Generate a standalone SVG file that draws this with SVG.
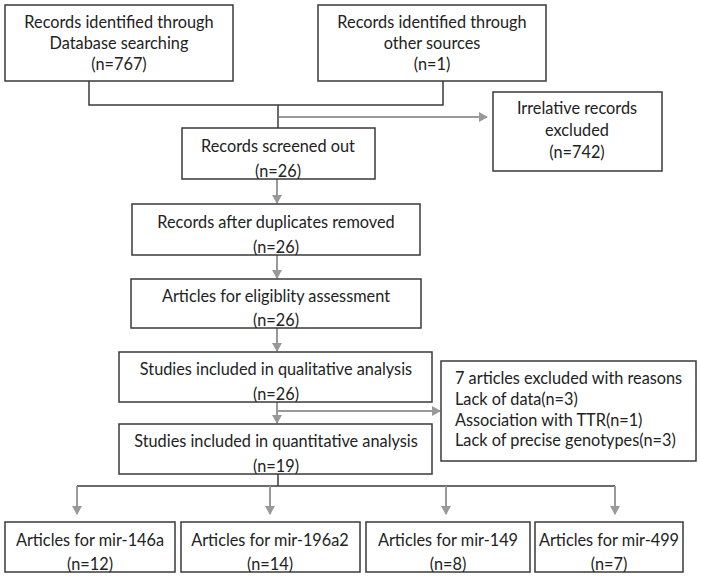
<svg xmlns="http://www.w3.org/2000/svg" width="701" height="579" viewBox="0 0 701 579">
<style>
  .box{fill:#fff;stroke:#3a3a3a;stroke-width:1.5}
  .t{font-family:Lato,"Liberation Sans",sans-serif;font-size:16.3px;fill:#222;text-anchor:middle}
  .tl{font-family:Lato,"Liberation Sans",sans-serif;font-size:16.3px;fill:#222;text-anchor:start}
  .k{fill:none;stroke:#3a3a3a;stroke-width:1.5}
  .g{fill:none;stroke:#999;stroke-width:2}
</style>
<defs>
  <marker id="ah" markerWidth="10" markerHeight="10" refX="8" refY="5" orient="auto" markerUnits="userSpaceOnUse">
    <path d="M0,0 L9,5 L0,10 Z" fill="#999"/>
  </marker>
  <clipPath id="c3"><rect x="182" y="128" width="193" height="51"/></clipPath>
  <clipPath id="c4"><rect x="132" y="204" width="288" height="51"/></clipPath>
  <clipPath id="c5"><rect x="131" y="279" width="290" height="49"/></clipPath>
  <clipPath id="c6"><rect x="119" y="352" width="313" height="50"/></clipPath>
  <clipPath id="c7"><rect x="119" y="424" width="313" height="50"/></clipPath>
  <clipPath id="cb"><rect x="0" y="522" width="701" height="50"/></clipPath>
</defs>
<rect width="701" height="579" fill="#fff"/>

<g id="connectors">
  <polyline class="k" points="89,81 89,105 443,105 443,81"/>
  <line class="k" x1="278" y1="105" x2="278" y2="128"/>
  <line class="g" x1="279" y1="117" x2="487" y2="117" marker-end="url(#ah)"/>
  <line class="g" x1="277" y1="179" x2="277" y2="203" marker-end="url(#ah)"/>
  <line class="g" x1="277" y1="255" x2="277" y2="278" marker-end="url(#ah)"/>
  <line class="g" x1="277" y1="328" x2="277" y2="351" marker-end="url(#ah)"/>
  <line class="g" x1="277" y1="402" x2="277" y2="423" marker-end="url(#ah)"/>
  <line class="g" x1="278" y1="411" x2="440" y2="411" marker-end="url(#ah)"/>
  <polyline class="k" points="278,474 278,486"/>
  <line class="k" x1="77" y1="486" x2="615" y2="486"/>
  <line class="g" x1="77" y1="486" x2="77" y2="514" marker-end="url(#ah)"/>
  <line class="g" x1="270" y1="486" x2="270" y2="514" marker-end="url(#ah)"/>
  <line class="g" x1="446" y1="486" x2="446" y2="514" marker-end="url(#ah)"/>
  <line class="g" x1="615" y1="486" x2="615" y2="514" marker-end="url(#ah)"/>
</g>

<g id="n1">
  <rect class="box" x="5" y="5" width="228" height="76"/>
  <text class="t" x="119" y="28">Records identified through</text>
  <text class="t" x="119" y="49">Database searching</text>
  <text class="t" x="119" y="70">(n=767)</text>
</g>
<g id="n2">
  <rect class="box" x="318" y="5" width="228" height="76"/>
  <text class="t" x="432" y="28">Records identified through</text>
  <text class="t" x="432" y="49">other sources</text>
  <text class="t" x="432" y="70">(n=1)</text>
</g>
<g id="n_irr">
  <rect class="box" x="493" y="92" width="169" height="79"/>
  <text class="t" x="577" y="114">Irrelative records</text>
  <text class="t" x="577" y="136">excluded</text>
  <text class="t" x="577" y="158">(n=742)</text>
</g>
<g id="n3">
  <rect class="box" x="182" y="128" width="193" height="51"/>
  <g clip-path="url(#c3)">
    <text class="t" x="278" y="152">Records screened out</text>
    <text class="t" x="278" y="176.5">(n=26)</text>
  </g>
</g>
<g id="n4">
  <rect class="box" x="132" y="204" width="288" height="51"/>
  <g clip-path="url(#c4)">
    <text class="t" x="276" y="228">Records after duplicates removed</text>
    <text class="t" x="276" y="252.5">(n=26)</text>
  </g>
</g>
<g id="n5">
  <rect class="box" x="131" y="279" width="290" height="49"/>
  <g clip-path="url(#c5)">
    <text class="t" x="276" y="302">Articles for eligiblity assessment</text>
    <text class="t" x="276" y="325.5">(n=26)</text>
  </g>
</g>
<g id="n6">
  <rect class="box" x="119" y="352" width="313" height="50"/>
  <g clip-path="url(#c6)">
    <text class="t" x="276" y="375">Studies included in qualitative analysis</text>
    <text class="t" x="276" y="399.5">(n=26)</text>
  </g>
</g>
<g id="n_excl">
  <rect class="box" x="441" y="361" width="255" height="100"/>
  <text class="tl" x="455" y="384">7 articles excluded with reasons</text>
  <text class="tl" x="455" y="405">Lack of data(n=3)</text>
  <text class="tl" x="455" y="426">Association with TTR(n=1)</text>
  <text class="tl" x="455" y="446">Lack of precise genotypes(n=3)</text>
</g>
<g id="n7">
  <rect class="box" x="119" y="424" width="313" height="50"/>
  <g clip-path="url(#c7)">
    <text class="t" x="276" y="447">Studies included in quantitative analysis</text>
    <text class="t" x="276" y="471.5">(n=19)</text>
  </g>
</g>
<g id="b1">
  <rect class="box" x="5" y="522" width="170" height="50"/>
  <g clip-path="url(#cb)">
    <text class="t" x="90" y="546">Articles for mir-146a</text>
    <text class="t" x="90" y="569.5">(n=12)</text>
  </g>
</g>
<g id="b2">
  <rect class="box" x="181" y="522" width="179" height="50"/>
  <g clip-path="url(#cb)">
    <text class="t" x="270" y="546">Articles for mir-196a2</text>
    <text class="t" x="270" y="569.5">(n=14)</text>
  </g>
</g>
<g id="b3">
  <rect class="box" x="366" y="522" width="164" height="50"/>
  <g clip-path="url(#cb)">
    <text class="t" x="448" y="546">Articles for mir-149</text>
    <text class="t" x="448" y="569.5">(n=8)</text>
  </g>
</g>
<g id="b4">
  <rect class="box" x="535" y="522" width="148" height="50"/>
  <g clip-path="url(#cb)">
    <text class="t" x="609" y="546">Articles for mir-499</text>
    <text class="t" x="609" y="569.5">(n=7)</text>
  </g>
</g>
</svg>
